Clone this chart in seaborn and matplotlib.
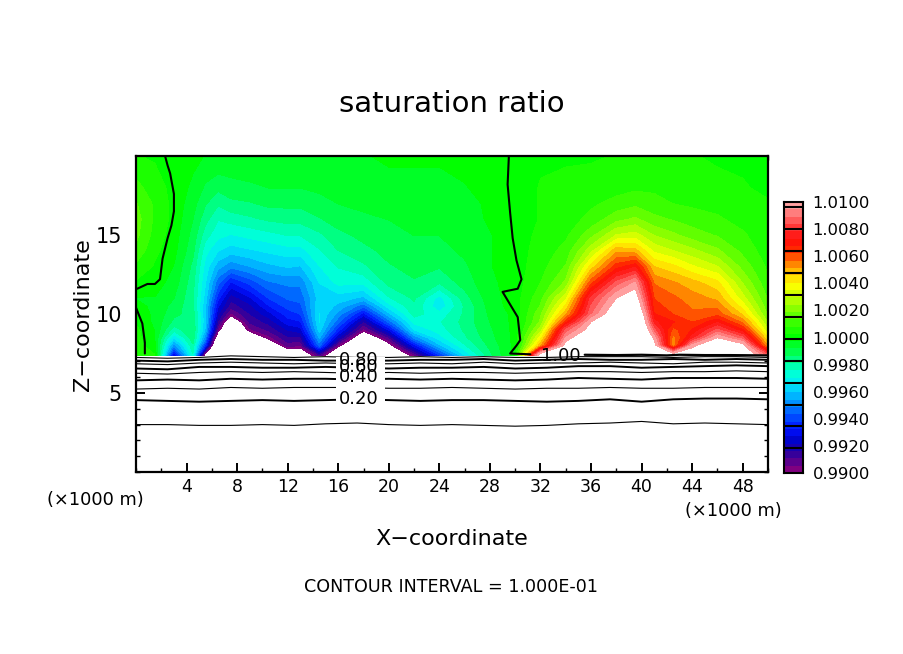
import numpy as np
import matplotlib
matplotlib.use('Agg')
import matplotlib.pyplot as plt
import seaborn as sns
from matplotlib.colors import ListedColormap
from matplotlib.ticker import MultipleLocator

W, H = 904, 654

x_km = [0, 1.5, 3, 4.5, 5.5, 6.5, 7.5, 9, 10.5, 12, 13, 14.5, 16, 18, 20, 22, 24, 26, 28, 30,
        32, 34, 36, 38, 39.5, 41, 42.5, 44, 46, 48, 50]
z_km = [7.4, 8, 8.5, 9, 9.5, 10, 10.5, 11, 12, 13, 14, 15, 16, 17, 18, 20]

# (saturation ratio - 1) * 1e4, one list per x column, bottom to top
columns = [
    [8, 6, 5, 4, 2, 1, -1, -3, 2, 7, 12, 15, 16, 14, 10, 3],
    [3, -2, -3, -3, -4, -4, -4, -3, 0, 2, 4, 6, 7, 7, 5, 2],
    [-75, -50, -35, -22, -15, -12, -10, -8, -5, -3, -1, 0, 1, 1, 1, 1],
    [-25, -20, -15, -14, -15, -16, -18, -18, -17, -15, -12, -10, -8, -6, -4, -1],
    [-110, -65, -50, -42, -40, -40, -40, -38, -35, -32, -28, -22, -17, -13, -9, -3],
    [-130, -130, -115, -95, -85, -78, -72, -66, -55, -44, -35, -28, -24, -18, -12, -3],
    [-140, -140, -130, -125, -115, -96, -87, -82, -68, -50, -38, -30, -22, -15, -10, -4],
    [-140, -130, -115, -96, -88, -84, -80, -74, -60, -46, -36, -28, -20, -14, -9, -4],
    [-130, -115, -97, -88, -82, -75, -68, -62, -52, -42, -34, -26, -18, -12, -8, -4],
    [-115, -92, -85, -78, -70, -65, -60, -56, -50, -40, -32, -24, -17, -12, -8, -4],
    [-115, -95, -85, -75, -68, -62, -58, -55, -50, -41, -32, -24, -17, -12, -8, -4],
    [-90, -55, -45, -38, -35, -35, -36, -38, -35, -30, -25, -20, -14, -10, -7, -3],
    [-120, -97, -78, -65, -55, -48, -42, -38, -28, -24, -19, -15, -11, -8, -6, -3],
    [-135, -125, -115, -97, -85, -70, -55, -42, -28, -20, -15, -12, -9, -7, -5, -3],
    [-120, -105, -90, -72, -55, -42, -32, -25, -17, -14, -12, -10, -8, -6, -4, -2],
    [-95, -70, -50, -35, -28, -22, -20, -18, -14, -12, -10, -8, -6, -5, -4, -2],
    [-62, -42, -32, -27, -25, -28, -34, -32, -18, -13, -10, -8, -6, -5, -4, -2],
    [-35, -25, -20, -18, -17, -18, -18, -16, -11, -9, -7, -6, -5, -4, -3, -1],
    [-15, -12, -10, -9, -8, -7, -6, -5, -4, -3, -3, -3, -2, -2, -1, 0],
    [0, -1, -1, -1, -1, -1, 0, 0, 0, 0, 0, 0, 0, 0, 0, 1],
    [110, 50, 38, 27, 20, 18, 14, 12, 8, 6, 5, 4, 3, 3, 3, 2],
    [130, 105, 95, 85, 65, 50, 42, 34, 20, 14, 10, 7, 5, 4, 4, 2],
    [140, 130, 115, 105, 100, 88, 84, 80, 60, 43, 28, 17, 10, 7, 5, 2],
    [150, 140, 130, 125, 115, 110, 105, 100, 85, 65, 50, 30, 17, 10, 6, 3],
    [150, 145, 140, 135, 130, 125, 115, 108, 95, 72, 48, 32, 20, 12, 7, 3],
    [120, 105, 97, 85, 74, 68, 64, 62, 56, 46, 34, 24, 15, 10, 7, 3],
    [110, 52, 54, 60, 68, 62, 60, 58, 52, 42, 30, 20, 13, 8, 6, 3],
    [110, 97, 75, 68, 62, 58, 56, 54, 48, 36, 26, 16, 11, 7, 5, 3],
    [125, 115, 100, 85, 72, 60, 55, 50, 42, 30, 20, 13, 9, 6, 4, 2],
    [115, 105, 85, 68, 55, 45, 38, 32, 24, 17, 12, 9, 6, 4, 3, 2],
    [85, 50, 40, 30, 24, 18, 15, 13, 9, 7, 5, 4, 3, 3, 2, 2],
]

# the 1.00 contour above the ground
one_a_x = [2.3, 2.5, 2.7, 3.0, 3.0, 2.8, 2.5, 2.1, 1.9, 1.5, 0.9, 0.1]
one_a_z = [20, 19.4, 18.9, 17.6, 16.5, 15.6, 14.8, 13.5, 12.2, 11.9, 11.9, 11.6]
one_b_x = [0.0, 0.5, 0.7, 0.7]
one_b_z = [10.4, 9.4, 8.2, 7.5]
one_c_x = [29.5, 29.4, 29.6, 29.8, 30.1, 30.5, 30.2, 29.0, 29.3, 30.2, 30.4, 30.1, 29.6, 31.2]
one_c_z = [20, 18.2, 16.4, 14.8, 13.4, 12.2, 11.6, 11.4, 11.0, 9.8, 8.35, 8.0, 7.5, 7.45]

# lower contours (0.1 .. 0.9), heights every 2.5 km
low_x = [0, 2.5, 5, 7.5, 10, 12.5, 15, 17.5, 20, 22.5, 25, 27.5, 30, 32.5, 35, 37.5, 40, 42.5, 45, 47.5, 50]
low_levels = {
    0.1: [3.0, 3.0, 2.95, 2.95, 3.0, 2.95, 3.05, 3.1, 3.0, 2.95, 3.0, 2.95, 2.9, 2.95, 3.05, 3.1, 3.2, 3.05, 3.1, 3.05, 3.0],
    0.2: [4.55, 4.5, 4.45, 4.5, 4.55, 4.5, 4.55, 4.6, 4.55, 4.5, 4.55, 4.55, 4.5, 4.45, 4.5, 4.6, 4.45, 4.6, 4.65, 4.65, 4.6],
    0.3: [5.25, 5.3, 5.25, 5.35, 5.3, 5.35, 5.35, 5.35, 5.3, 5.3, 5.35, 5.3, 5.25, 5.3, 5.3, 5.35, 5.3, 5.3, 5.35, 5.35, 5.35],
    0.4: [5.8, 5.85, 5.8, 5.9, 5.85, 5.9, 5.9, 5.85, 5.9, 5.85, 5.9, 5.85, 5.8, 5.85, 5.95, 5.9, 5.85, 5.95, 5.95, 5.95, 5.9],
    0.5: [6.25, 6.2, 6.3, 6.35, 6.3, 6.35, 6.3, 6.25, 6.3, 6.25, 6.3, 6.3, 6.25, 6.3, 6.35, 6.35, 6.3, 6.35, 6.35, 6.4, 6.35],
    0.6: [6.55, 6.5, 6.65, 6.65, 6.6, 6.6, 6.65, 6.6, 6.55, 6.6, 6.6, 6.65, 6.55, 6.6, 6.7, 6.7, 6.6, 6.65, 6.7, 6.75, 6.7],
    0.7: [6.85, 6.8, 6.9, 6.95, 6.9, 6.85, 6.9, 6.85, 6.85, 6.9, 6.85, 6.95, 6.85, 6.9, 6.9, 6.95, 6.9, 6.85, 6.95, 6.95, 6.9],
    0.8: [7.05, 7.0, 7.1, 7.15, 7.1, 7.1, 7.05, 7.05, 7.05, 7.1, 7.1, 7.15, 7.05, 7.1, 7.15, 7.1, 7.1, 7.15, 7.1, 7.15, 7.1],
    0.9: [7.25, 7.2, 7.25, 7.35, 7.3, 7.25, 7.3, 7.25, 7.25, 7.3, 7.25, 7.3, 7.25, 7.25, 7.3, 7.3, 7.3, 7.25, 7.3, 7.3, 7.25],
}
top_line_x = [35.5, 38, 40, 42, 43, 45, 47, 50]
top_line_z = [7.42, 7.4, 7.42, 7.38, 7.42, 7.4, 7.4, 7.38]

x_ticks = [4, 8, 12, 16, 20, 24, 28, 32, 36, 40, 44, 48]
z_ticks = [5, 10, 15]
# colour bar colours read every 0.001, from 0.9900 to 1.0100
cbar_anchors = ['#800080', '#3c0096', '#0000c0', '#0010ff', '#0050ff', '#0090ff', '#00d0ff',
                '#00ffe8', '#00ffa0', '#00ff40', '#00ff00', '#30ff00', '#78ff00', '#c0ff00',
                '#ffff00', '#ffc000', '#ff6000', '#ff1000', '#ff2020', '#ff6060', '#ffa0a0']
cbar_labels = ['1.0100', '1.0080', '1.0060', '1.0040', '1.0020', '1.0000',
               '0.9980', '0.9960', '0.9940', '0.9920', '0.9900']
n_bands = 37

sns.set_style('white')
plt.rcParams['font.family'] = 'DejaVu Sans'
plt.rcParams['text.color'] = 'black'
plt.rcParams['xtick.color'] = 'black'
plt.rcParams['ytick.color'] = 'black'

field = 1 + np.array(columns, dtype=float).T * 1e-4
levels = np.linspace(0.99, 1.01, n_bands + 1)
palette = sns.blend_palette(cbar_anchors, n_colors=n_bands)

fig = plt.figure(figsize=(W / 100, H / 100), dpi=100)
ax = fig.add_axes([136 / W, (H - 472) / H, 632 / W, 316 / H])

ax.contourf(x_km, z_km, field, levels=levels, colors=palette, antialiased=False, zorder=1)

for one_x, one_z in [(one_a_x, one_a_z), (one_b_x, one_b_z), (one_c_x, one_c_z)]:
    ax.plot(one_x, one_z, color='black', lw=1.5, zorder=4)
for level, heights in low_levels.items():
    thick = round(level * 10) % 2 == 0
    ax.plot(low_x, heights, color='black', lw=1.4 if thick else 0.8, zorder=2)
ax.plot(top_line_x, top_line_z, color='black', lw=1.6, zorder=2)

# gaps in the lines where the contour labels sit
ax.fill_between([15.8, 19.7], 4.1, 7.3, color='white', lw=0, zorder=3)
for label, lz in [('0.20', 4.62), ('0.40', 6.0), ('0.60', 6.62), ('0.80', 7.1)]:
    ax.text(17.6, lz, label, ha='center', va='center', fontsize=13, zorder=5)
ax.text(33.6, 7.35, '1.00', ha='center', va='center', fontsize=13, zorder=5)

ax.set_xlim(0, 50)
ax.set_ylim(0, 20)
ax.set_xticks(x_ticks)
ax.set_yticks(z_ticks)
ax.xaxis.set_minor_locator(MultipleLocator(2))
ax.yaxis.set_minor_locator(MultipleLocator(1))
ax.tick_params(which='major', direction='in', length=6.5, width=1.4, top=True, right=True,
               bottom=True, left=True)
ax.tick_params(which='minor', direction='in', length=3, width=1, top=True, right=True,
               bottom=True, left=True)
ax.tick_params(axis='x', which='major', pad=4.5, labelsize=12.5)
ax.tick_params(axis='y', which='major', pad=10, labelsize=15)
for spine in ax.spines.values():
    spine.set_visible(True)
    spine.set_color('black')
    spine.set_linewidth(1.6)

# colour bar
cax = fig.add_axes([784 / W, (H - 473) / H, 19 / W, 271 / H])
bar = (levels[:-1] + levels[1:])[::-1].reshape(-1, 1) / 2
sns.heatmap(bar, ax=cax, cmap=ListedColormap(palette), vmin=0.99, vmax=1.01, cbar=False,
            xticklabels=False, yticklabels=False)
for i in range(12):
    cax.axhline(0.65 + 3 * i, color='black', lw=1.5)
for spine in cax.spines.values():
    spine.set_visible(True)
    spine.set_color('black')
    spine.set_linewidth(1.5)
cax.set_yticks(np.linspace(0, n_bands, len(cbar_labels)))
cax.set_yticklabels(cbar_labels, rotation=0, fontsize=11.8)
cax.tick_params(axis='y', length=0, pad=7, right=True, left=False, labelright=True, labelleft=False)

def put(px, py, s, **kw):
    fig.text(px / W, 1 - py / H, s, ha='center', va='center', **kw)

put(452, 104, 'saturation ratio', fontsize=21)
put(452, 539, 'X\u2212coordinate', fontsize=16)
put(83, 315, 'Z\u2212coordinate', fontsize=16, rotation=90)
put(95, 500, '(\u00d71000 m)', fontsize=12.8)
put(733, 511, '(\u00d71000 m)', fontsize=12.8)
put(451, 587, 'CONTOUR INTERVAL = 1.000E-01', fontsize=12.6)

fig.savefig('out.png', dpi=100, facecolor='white')
